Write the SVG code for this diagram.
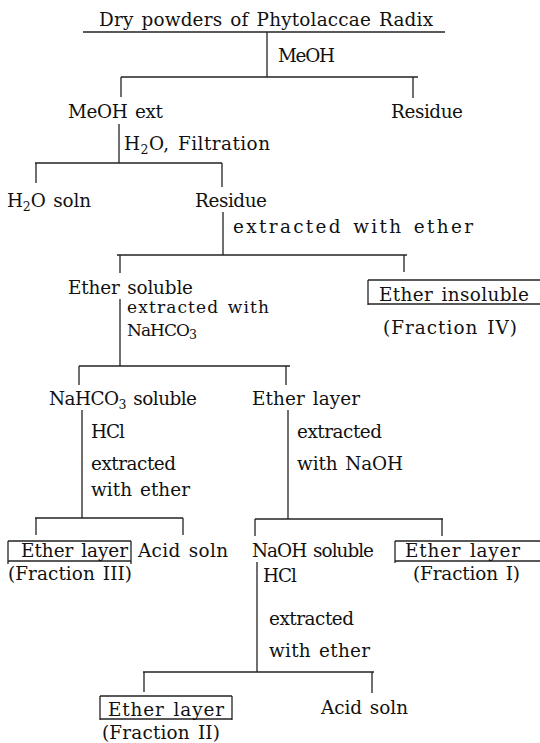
<svg xmlns="http://www.w3.org/2000/svg" width="540" height="743" viewBox="0 0 540 743">
<style>
text{font-family:"DejaVu Serif","Liberation Serif",serif;font-size:18.4px;fill:#111;word-spacing:2px}
.c line,.n line{stroke:#222;stroke-width:1.3;fill:none}
.s{font-size:12.5px}
.t{font-size:17px}
</style>
<rect width="540" height="743" fill="#fff"/>
<g id="connectors" class="c">
<line x1="83" y1="32" x2="445" y2="32"/>
<line x1="267" y1="32" x2="267" y2="77"/>
<line x1="121" y1="77" x2="418" y2="77"/>
<line x1="121" y1="77" x2="121" y2="97"/>
<line x1="413" y1="77" x2="413" y2="98"/>
<line x1="119" y1="124" x2="119" y2="163"/>
<line x1="35" y1="163" x2="222" y2="163"/>
<line x1="36" y1="163" x2="36" y2="183"/>
<line x1="222" y1="163" x2="222" y2="187"/>
<line x1="223" y1="212" x2="223" y2="255"/>
<line x1="117" y1="255" x2="407" y2="255"/>
<line x1="120" y1="255" x2="120" y2="273"/>
<line x1="404" y1="255" x2="404" y2="272"/>
<line x1="120" y1="299" x2="120" y2="366"/>
<line x1="79" y1="366" x2="290" y2="366"/>
<line x1="79" y1="366" x2="79" y2="385"/>
<line x1="286" y1="366" x2="286" y2="385"/>
<line x1="82" y1="410" x2="82" y2="518"/>
<line x1="35" y1="518" x2="183" y2="518"/>
<line x1="36" y1="518" x2="36" y2="535"/>
<line x1="183" y1="518" x2="183" y2="535"/>
<line x1="288" y1="410" x2="288" y2="519"/>
<line x1="255" y1="519" x2="443" y2="519"/>
<line x1="255" y1="519" x2="255" y2="536"/>
<line x1="442" y1="519" x2="442" y2="536"/>
<line x1="257" y1="562" x2="257" y2="672"/>
<line x1="143" y1="672" x2="374" y2="672"/>
<line x1="144" y1="672" x2="144" y2="692"/>
<line x1="372" y1="672" x2="372" y2="693"/>
</g>
<g id="n-dry"><text x="99" y="26" textLength="334">Dry powders of Phytolaccae Radix</text></g>
<g id="s-meoh"><text x="278" y="62" textLength="57">MeOH</text></g>
<g id="n-meoh-ext"><text x="68" y="118" textLength="95">MeOH ext</text></g>
<g id="n-residue1"><text x="391" y="118" textLength="72">Residue</text></g>
<g id="s-h2o"><text x="124" y="150" textLength="146">H<tspan class="s" dy="4">2</tspan><tspan dy="-4">O, Filtration</tspan></text></g>
<g id="n-h2o-soln"><text x="7" y="207" textLength="84">H<tspan class="s" dy="4">2</tspan><tspan dy="-4">O soln</tspan></text></g>
<g id="n-residue2"><text x="195" y="207" textLength="72">Residue</text></g>
<g id="s-ether1"><text x="233" y="233" word-spacing="13" textLength="240">extracted with ether</text></g>
<g id="n-ether-soluble"><text x="68" y="294" textLength="125">Ether soluble</text></g>
<g id="s-nahco3"><text class="t" x="127" y="313" textLength="142">extracted with</text><text class="t" x="127" y="336" textLength="70">NaHCO<tspan class="s" dy="3">3</tspan></text></g>
<g id="n-frac4" class="n">
<line x1="368" y1="280" x2="540" y2="280"/><line x1="368" y1="280" x2="368" y2="305"/><line x1="368" y1="304" x2="540" y2="304"/>
<text x="379" y="301" textLength="150">Ether insoluble</text>
<text x="383" y="334" textLength="134">(Fraction IV)</text>
</g>
<g id="n-nahco3-soluble"><text x="49" y="405" textLength="148">NaHCO<tspan class="s" dy="4">3</tspan><tspan dy="-4"> soluble</tspan></text></g>
<g id="n-ether-layer"><text x="252" y="405" textLength="108">Ether layer</text></g>
<g id="s-hcl1"><text x="91" y="438" textLength="34">HCl</text><text x="91" y="470" textLength="85">extracted</text><text x="91" y="496" textLength="99">with ether</text></g>
<g id="s-naoh"><text x="297" y="438" textLength="85">extracted</text><text x="297" y="470" textLength="106">with NaOH</text></g>
<g id="n-frac3" class="n">
<line x1="8" y1="541" x2="131" y2="541"/><line x1="8" y1="541" x2="8" y2="564"/><line x1="131" y1="541" x2="131" y2="564"/><line x1="8" y1="561" x2="131" y2="561"/>
<text x="21" y="557" textLength="107">Ether layer</text>
<text x="8" y="580" textLength="124">(Fraction III)</text>
</g>
<g id="n-acid1"><text x="138" y="557" textLength="90">Acid soln</text></g>
<g id="n-naoh-soluble"><text x="252" y="557" textLength="122">NaOH soluble</text></g>
<g id="n-frac1" class="n">
<line x1="395" y1="541" x2="540" y2="541"/><line x1="395" y1="541" x2="395" y2="563"/><line x1="395" y1="561" x2="540" y2="561"/>
<text x="405" y="557" textLength="115">Ether layer</text>
<text x="413" y="580" textLength="107">(Fraction I)</text>
</g>
<g id="s-hcl2"><text x="263" y="582" textLength="34">HCl</text><text x="269" y="625" textLength="85">extracted</text><text x="269" y="657" textLength="101">with ether</text></g>
<g id="n-frac2" class="n">
<line x1="100" y1="696" x2="232" y2="696"/><line x1="100" y1="696" x2="100" y2="720"/><line x1="232" y1="696" x2="232" y2="720"/><line x1="100" y1="719" x2="232" y2="719"/>
<text x="108" y="716" textLength="116">Ether layer</text>
<text x="102" y="739" textLength="118">(Fraction II)</text>
</g>
<g id="n-acid2"><text x="321" y="714" textLength="87">Acid soln</text></g>
</svg>
